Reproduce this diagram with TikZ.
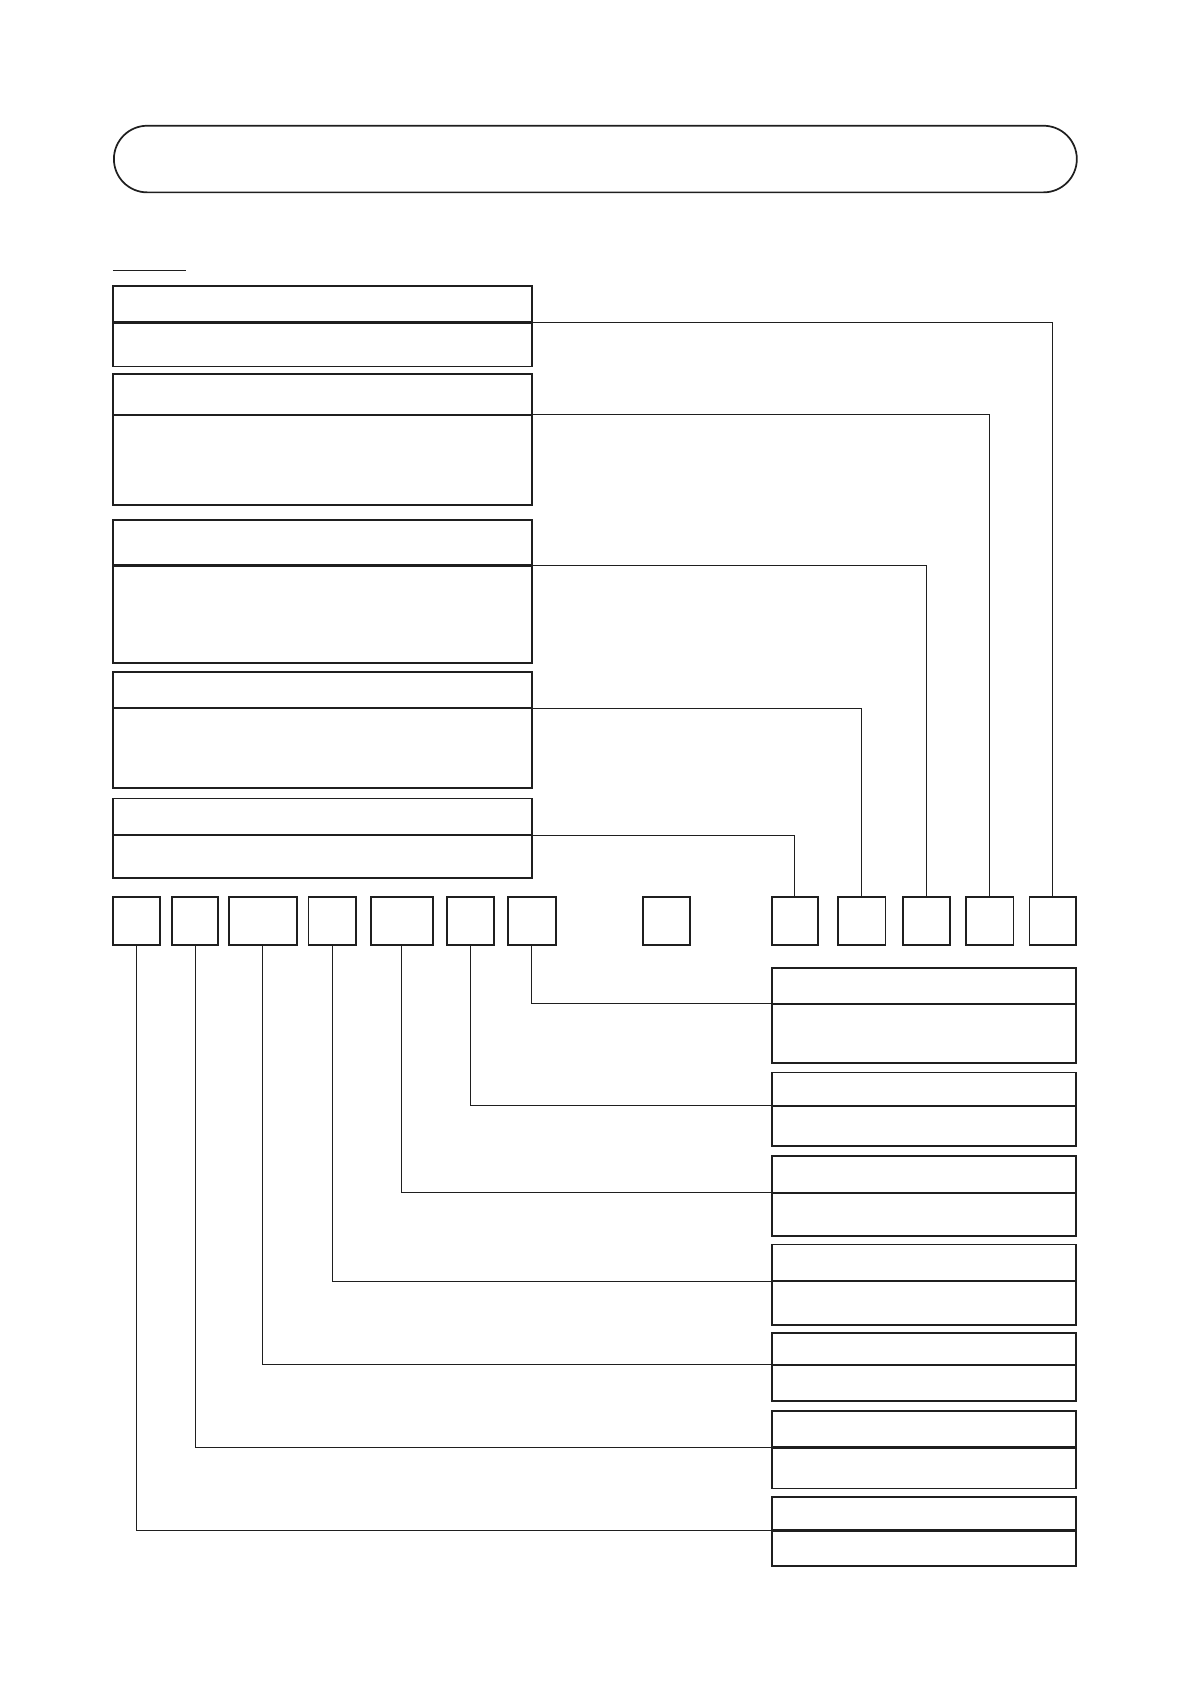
\documentclass[tikz,border=0pt]{standalone}
\begin{document}
\begin{tikzpicture}[x=1pt,y=-1pt,
  outline/.style={draw=black!88,line width=1.7pt,inner sep=0pt,outer sep=0pt,anchor=north west},
  divline/.style={draw=black!88,line width=2.3pt},
  conn/.style={draw=black!88,line width=0.95pt},
  titlebox/.style={draw=black!88,line width=1.6pt,rounded corners=31pt,inner sep=0pt,outer sep=0pt,anchor=north west,minimum width=896pt,minimum height=62pt}]
\useasboundingbox (0,0) rectangle (1107.5,1567);
\newcommand\mkbox[6]{%
  \node[outline,minimum width={#3-#2},minimum height={#5-#4}] (#1h) at (#2,#4) {};
  \node[outline,minimum width={#3-#2},minimum height={#6-#5}] (#1b) at (#2,#5) {};
  \draw[divline] (#1h.south west) -- (#1h.south east);
}
\newcommand\mksq[3]{%
  \node[outline,minimum width={#3-#2},minimum height=44pt] (#1) at (#2,835) {};
}
% title
\node[titlebox] (title) at (106,117) {};
% underline
\coordinate (ulA) at (105,252);
\coordinate (ulB) at (173,252);
\draw[conn] (ulA) -- (ulB);
% left boxes
\mkbox{L1}{105}{495}{266}{300}{341}
\mkbox{L2}{105}{495}{348}{386}{470}
\mkbox{L3}{105}{495}{484}{526}{617}
\mkbox{L4}{105}{495}{625}{659}{733}
\mkbox{L5}{105}{495}{743}{777}{817}
% squares
\mksq{s1}{105}{149}
\mksq{s2}{160}{203}
\mksq{s3}{213}{276}
\mksq{s4}{287}{331}
\mksq{s5}{345}{403}
\mksq{s6}{416}{460}
\mksq{s7}{473}{517}
\mksq{s8}{598}{642}
\mksq{s9}{718}{761}
\mksq{s10}{780}{824}
\mksq{s11}{840}{884}
\mksq{s12}{899}{943}
\mksq{s13}{958}{1001}
% right boxes
\mkbox{R1}{718}{1001}{901}{934}{989}
\mkbox{R2}{718}{1001}{998}{1029}{1066}
\mkbox{R3}{718}{1001}{1076}{1110}{1150}
\mkbox{R4}{718}{1001}{1158}{1192}{1233}
\mkbox{R5}{718}{1001}{1240}{1270}{1304}
\mkbox{R6}{718}{1001}{1313}{1347}{1385}
\mkbox{R7}{718}{1001}{1393}{1424}{1457}
% upper connectors
\draw[conn] (L1h.south east) -| (s13.north);
\draw[conn] (L2h.south east) -| (s12.north);
\draw[conn] (L3h.south east) -| (s11.north);
\draw[conn] (L4h.south east) -| (s10.north);
\draw[conn] (L5h.south east) -| (s9.north);
% lower connectors
\draw[conn] (s7.south) |- (R1h.south west);
\draw[conn] (s6.south) |- (R2h.south west);
\draw[conn] (s5.south) |- (R3h.south west);
\draw[conn] (s4.south) |- (R4h.south west);
\draw[conn] (s3.south) |- (R5h.south west);
\draw[conn] (s2.south) |- (R6h.south west);
\draw[conn] (s1.south) |- (R7h.south west);
\end{tikzpicture}
\end{document}
